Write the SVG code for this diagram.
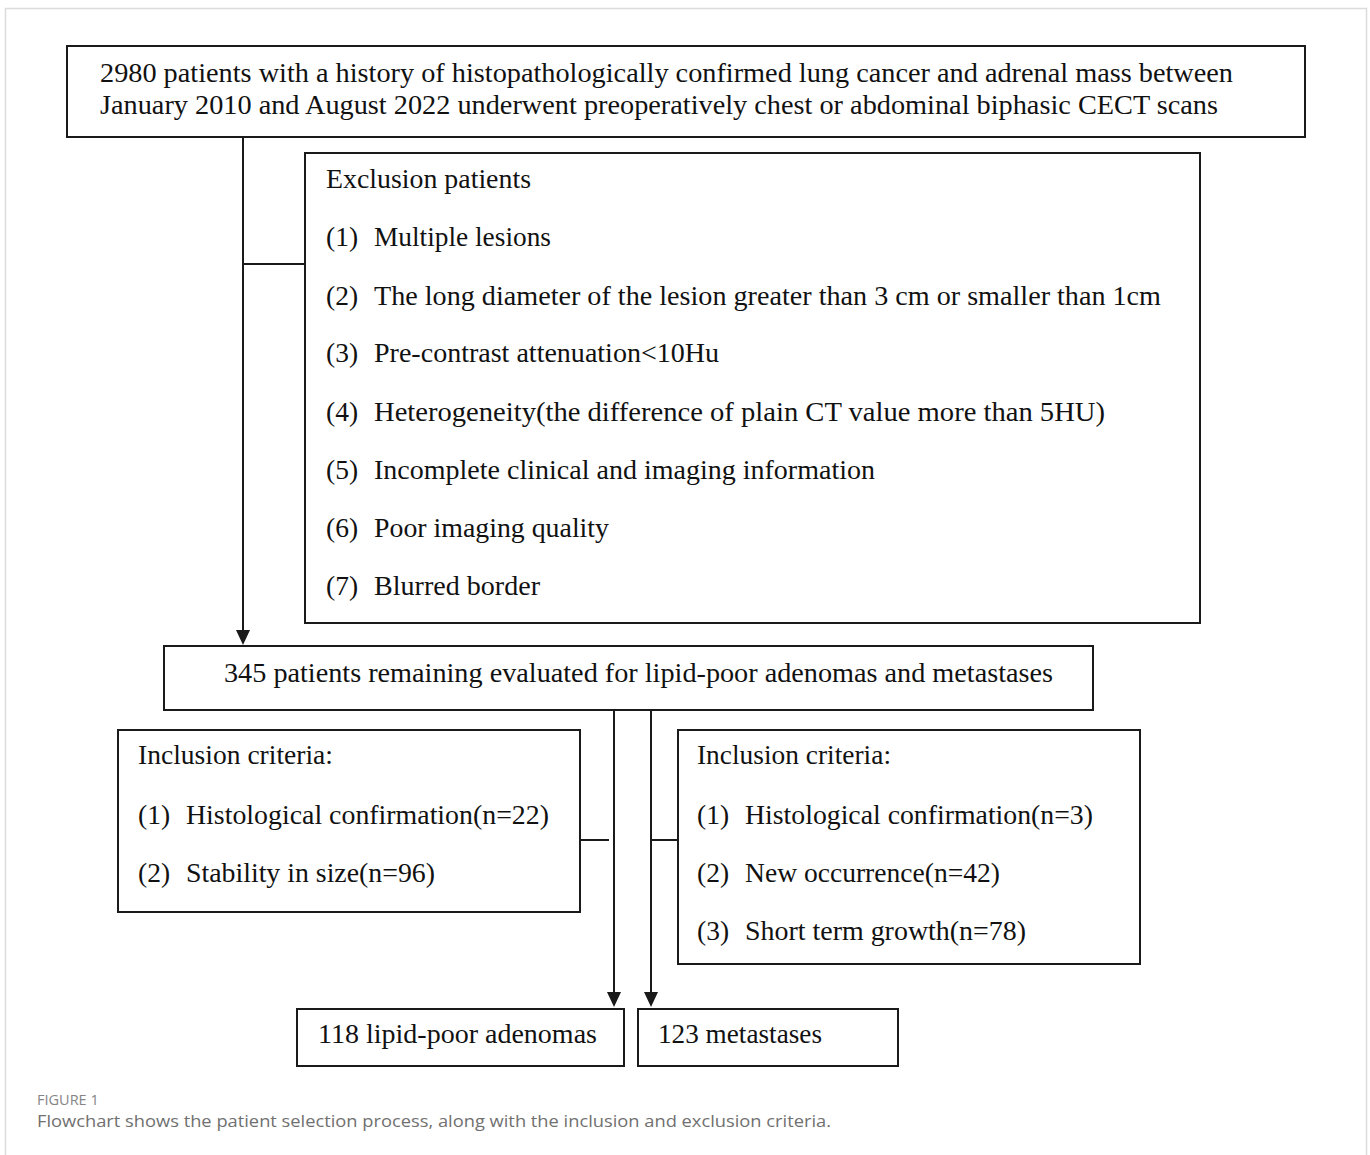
<svg xmlns="http://www.w3.org/2000/svg" width="1370" height="1155" viewBox="0 0 1370 1155">
<style>
.box{fill:#fff;stroke:#1a1a1a;stroke-width:2}
.t{font-family:"Liberation Serif","Times New Roman",serif;font-size:27.5px;fill:#111}
.ln{stroke:#1a1a1a;stroke-width:2;fill:none}
.cap1{font-family:"Open Sans","Noto Sans",sans-serif;font-size:14.5px;fill:#858585}
.cap2{font-family:"Open Sans","Noto Sans",sans-serif;font-size:17px;fill:#707070}
</style>
<defs>
<path id="ah" d="M-7,-15 L7,-15 L0,0 Z" fill="#1a1a1a"/>
</defs>
<rect x="0" y="0" width="1370" height="1155" fill="#fff"/>
<rect x="5.5" y="8.5" width="1361" height="1170" fill="none" stroke="#dcdcdc" stroke-width="1.5"/>

<g id="connectors">
<line class="ln" x1="243" y1="137" x2="243" y2="632"/>
<use href="#ah" x="243" y="645"/>
<line class="ln" x1="243" y1="264" x2="305" y2="264"/>
<line class="ln" x1="614" y1="710" x2="614" y2="994"/>
<use href="#ah" x="614" y="1007"/>
<line class="ln" x1="651" y1="710" x2="651" y2="994"/>
<use href="#ah" x="651" y="1007"/>
<line class="ln" x1="580" y1="840" x2="609" y2="840"/>
<line class="ln" x1="651" y1="840" x2="678" y2="840"/>
</g>

<g id="node-start">
<rect class="box" x="67" y="46" width="1238" height="91"/>
<text class="t" x="100" y="82" textLength="1133" lengthAdjust="spacingAndGlyphs">2980 patients with a history of histopathologically  confirmed lung cancer and adrenal mass between</text>
<text class="t" x="100" y="114" textLength="1118" lengthAdjust="spacingAndGlyphs">January 2010 and August 2022 underwent preoperatively  chest or abdominal biphasic CECT scans</text>
</g>

<g id="node-exclusion">
<rect class="box" x="305" y="153" width="895" height="470"/>
<text class="t" x="326" y="188" textLength="205" lengthAdjust="spacingAndGlyphs">Exclusion patients</text>
<text class="t" y="246"><tspan x="326">(1)</tspan><tspan x="374" textLength="177" lengthAdjust="spacingAndGlyphs">Multiple lesions</tspan></text>
<text class="t" y="305"><tspan x="326">(2)</tspan><tspan x="374" textLength="787" lengthAdjust="spacingAndGlyphs">The long diameter of the lesion greater than 3 cm or smaller than 1cm</tspan></text>
<text class="t" y="362"><tspan x="326">(3)</tspan><tspan x="374" textLength="345" lengthAdjust="spacingAndGlyphs">Pre-contrast attenuation&lt;10Hu</tspan></text>
<text class="t" y="421"><tspan x="326">(4)</tspan><tspan x="374" textLength="731" lengthAdjust="spacingAndGlyphs">Heterogeneity(the difference of plain CT value more than 5HU)</tspan></text>
<text class="t" y="479"><tspan x="326">(5)</tspan><tspan x="374" textLength="501" lengthAdjust="spacingAndGlyphs">Incomplete clinical  and imaging information</tspan></text>
<text class="t" y="537"><tspan x="326">(6)</tspan><tspan x="374" textLength="235" lengthAdjust="spacingAndGlyphs">Poor imaging quality</tspan></text>
<text class="t" y="595"><tspan x="326">(7)</tspan><tspan x="374" textLength="166" lengthAdjust="spacingAndGlyphs">Blurred border</tspan></text>
</g>

<g id="node-remaining">
<rect class="box" x="164" y="646" width="929" height="64"/>
<text class="t" x="224" y="682" textLength="829" lengthAdjust="spacingAndGlyphs">345 patients remaining  evaluated for lipid-poor adenomas and metastases</text>
</g>

<g id="node-inclusion-adenoma">
<rect class="box" x="118" y="730" width="462" height="182"/>
<text class="t" x="138" y="764" textLength="195" lengthAdjust="spacingAndGlyphs">Inclusion criteria:</text>
<text class="t" y="824"><tspan x="138">(1)</tspan><tspan x="186" textLength="363" lengthAdjust="spacingAndGlyphs">Histological confirmation(n=22)</tspan></text>
<text class="t" y="882"><tspan x="138">(2)</tspan><tspan x="186" textLength="249" lengthAdjust="spacingAndGlyphs">Stability in size(n=96)</tspan></text>
</g>

<g id="node-inclusion-metastasis">
<rect class="box" x="678" y="730" width="462" height="234"/>
<text class="t" x="697" y="764" textLength="194" lengthAdjust="spacingAndGlyphs">Inclusion criteria:</text>
<text class="t" y="824"><tspan x="697">(1)</tspan><tspan x="745" textLength="348" lengthAdjust="spacingAndGlyphs">Histological confirmation(n=3)</tspan></text>
<text class="t" y="882"><tspan x="697">(2)</tspan><tspan x="745" textLength="255" lengthAdjust="spacingAndGlyphs">New occurrence(n=42)</tspan></text>
<text class="t" y="940"><tspan x="697">(3)</tspan><tspan x="745" textLength="281" lengthAdjust="spacingAndGlyphs">Short term growth(n=78)</tspan></text>
</g>

<g id="node-adenomas">
<rect class="box" x="297" y="1009" width="327" height="57"/>
<text class="t" x="318" y="1043" textLength="279" lengthAdjust="spacingAndGlyphs">118 lipid-poor adenomas</text>
</g>

<g id="node-metastases">
<rect class="box" x="638" y="1009" width="260" height="57"/>
<text class="t" x="658" y="1043" textLength="164" lengthAdjust="spacingAndGlyphs">123 metastases</text>
</g>

<g id="caption">
<text class="cap1" x="37" y="1105">FIGURE 1</text>
<text class="cap2" x="37" y="1127" textLength="794" lengthAdjust="spacingAndGlyphs">Flowchart shows the patient selection process, along with the inclusion and exclusion criteria.</text>
</g>
</svg>
